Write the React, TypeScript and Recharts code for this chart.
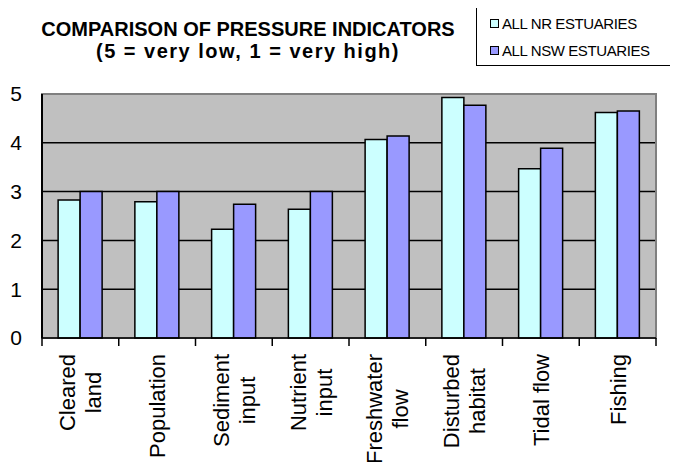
import React from "react";
import { BarChart, Bar, XAxis, YAxis, CartesianGrid, ReferenceArea } from "recharts";

const categories = [
    "Cleared\nland",
    "Population",
    "Sediment\ninput",
    "Nutrient\ninput",
    "Freshwater\nflow",
    "Disturbed\nhabitat",
    "Tidal flow",
    "Fishing",
];
const nrEstuaries = [2.83, 2.79, 2.23, 2.64, 4.07, 4.93, 3.47, 4.62];
const nswEstuaries = [3.0, 3.0, 2.74, 3.0, 4.14, 4.77, 3.89, 4.65];
const yTicks = [0, 1, 2, 3, 4, 5];

const data = categories.map((name, i) => ({
    name,
    nr: nrEstuaries[i],
    nsw: nswEstuaries[i],
}));

const FONT = "'Liberation Sans', Arial, sans-serif";
const LABEL_SIZE = 22;
const BAND = (656 - 42) / categories.length;

let ctx: CanvasRenderingContext2D | null = null;
const measure = (s: string) => {
    if (!ctx) ctx = document.createElement("canvas").getContext("2d");
    if (!ctx) return s.length * LABEL_SIZE * 0.5;
    ctx.font = `${LABEL_SIZE}px ${FONT}`;
    return ctx.measureText(s).width;
};

// rotated multi-line category labels, ticks drawn between categories
const CategoryTick = (props: any) => {
    const { x, y, payload, index } = props;
    const lines: string[] = String(payload.value).split("\n");
    const block = Math.max(...lines.map(measure));
    const mid = 16 + block / 2;
    const lineH = 26;
    return (
        <g transform={`translate(${x},${y})`}>
            <line x1={-BAND / 2} x2={-BAND / 2} y1={0} y2={8} stroke="#000" strokeWidth={1.5} />
            {index === categories.length - 1 && (
                <line x1={BAND / 2} x2={BAND / 2} y1={0} y2={8} stroke="#000" strokeWidth={1.5} />
            )}
            <g transform="rotate(-90)">
                {lines.map((l, i) => (
                    <text
                        key={i}
                        x={-mid}
                        y={(i - (lines.length - 1) / 2) * lineH + 8}
                        textAnchor="middle"
                        fontSize={LABEL_SIZE}
                        fontFamily={FONT}
                        fill="#000"
                    >
                        {l}
                    </text>
                ))}
            </g>
        </g>
    );
};

const LegendBox = () => (
    <div
        style={{
            position: "absolute",
            left: 476,
            top: 7,
            width: 197,
            height: 57,
            border: "1px solid #000",
            background: "#fff",
            fontFamily: FONT,
            fontSize: 15,
        }}
    >
        {[
            { label: "ALL NR ESTUARIES", color: "#CCFFFF", cy: 15 },
            { label: "ALL NSW ESTUARIES", color: "#9999FF", cy: 42 },
        ].map((e) => (
            <div
                key={e.label}
                style={{
                    position: "absolute",
                    left: 13,
                    top: e.cy - 9,
                    height: 18,
                    display: "flex",
                    alignItems: "center",
                    whiteSpace: "nowrap",
                }}
            >
                <span style={{ width: 7, height: 7, border: "1px solid #000", background: e.color, marginRight: 3 }} />
                <span style={{ letterSpacing: -0.4 }}>{e.label}</span>
            </div>
        ))}
    </div>
);

export default function App() {
    return (
        <div style={{ position: "relative", width: 678, height: 470, margin: -8, background: "#fff", overflow: "hidden" }}>
            <div
                style={{
                    position: "absolute",
                    left: 0,
                    width: 496,
                    top: 18,
                    textAlign: "center",
                    fontFamily: FONT,
                    fontWeight: "bold",
                    fontSize: 20,
                    lineHeight: "22px",
                    color: "#000",
                }}
            >
                <div>COMPARISON OF PRESSURE INDICATORS</div>
                <div style={{ letterSpacing: 1.5 }}>(5 = very low, 1 = very high)</div>
            </div>
            <LegendBox />
            <div style={{ position: "absolute", left: 0, top: 0 }}>
                <BarChart
                    width={678}
                    height={470}
                    data={data}
                    margin={{ top: 94, right: 22, bottom: 0, left: 12 }}
                    barGap={0}
                    barCategoryGap="21%"
                >
                    <CartesianGrid
                        vertical={false}
                        horizontalValues={[1, 2, 3, 4]}
                        stroke="#000"
                        strokeWidth={1.5}
                        fill="#C0C0C0"
                        fillOpacity={1}
                    />
                    <ReferenceArea y1={0} y2={5} fill="none" stroke="#808080" strokeWidth={2} ifOverflow="visible" />
                    <XAxis
                        dataKey="name"
                        interval={0}
                        tickLine={false}
                        tickSize={0}
                        tickMargin={0}
                        axisLine={{ stroke: "#000", strokeWidth: 1.5 }}
                        tick={<CategoryTick />}
                        height={132}
                    />
                    <YAxis
                        type="number"
                        domain={[0, 5]}
                        ticks={yTicks}
                        interval={0}
                        width={30}
                        tickLine={false}
                        tickSize={0}
                        tickMargin={20}
                        axisLine={{ stroke: "#000", strokeWidth: 2 }}
                        tick={{ fill: "#000", fontSize: 21, fontFamily: FONT }}
                    />
                    <Bar dataKey="nr" fill="#CCFFFF" stroke="#000" strokeWidth={1.5} isAnimationActive={false} />
                    <Bar dataKey="nsw" fill="#9999FF" stroke="#000" strokeWidth={1.5} isAnimationActive={false} />
                </BarChart>
            </div>
        </div>
    );
}
